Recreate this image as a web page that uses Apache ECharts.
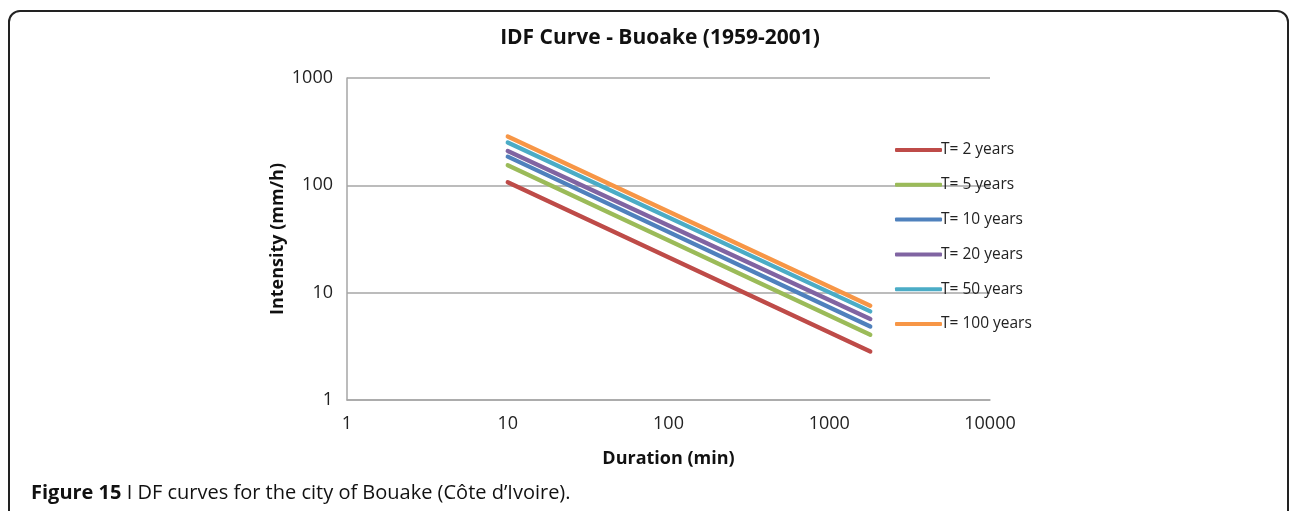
<!DOCTYPE html>
<html>
<head>
<meta charset="utf-8">
<script src="https://cdn.jsdelivr.net/npm/echarts@6/dist/echarts.min.js"></script>
<style>
  html, body { margin: 0; padding: 0; background: #fff; }
  #chart { width: 1292px; height: 511px; }
</style>
</head>
<body>
<div id="chart"></div>
<script>
// Rainfall durations (min) at both ends of each fitted curve
const durations = [10, 1800];

// Intensity (mm/h) for each return period, at the durations above
const seriesNames = ['T= 2 years', 'T= 5 years', 'T= 10 years', 'T= 20 years', 'T= 50 years', 'T= 100 years'];
const t2 = [107, 2.83];
const t5 = [154, 4.05];
const t10 = [185, 4.84];
const t20 = [209, 5.68];
const t50 = [251, 6.69];
const t100 = [285, 7.56];
const seriesValues = [t2, t5, t10, t20, t50, t100];

const colors = ['#BE4B48', '#9BBB59', '#4F81BD', '#8064A2', '#4BACC6', '#F79646'];

const FONT = '"Open Sans", "Noto Sans", sans-serif';

const chart = echarts.init(document.getElementById('chart'), null, { renderer: 'canvas' });

const series = seriesNames.map((name, i) => ({
  name: name,
  type: 'line',
  data: durations.map((d, k) => [d, seriesValues[i][k]]),
  showSymbol: false,
  symbol: 'none',
  lineStyle: { width: 4.3, color: colors[i], cap: 'round' },
  itemStyle: { color: colors[i] },
  emphasis: { disabled: true },
  animation: false
}));

// plain numbers on the log axes (no thousands separator)
const plain = v => String(v);

chart.setOption({
  animation: false,
  backgroundColor: '#ffffff',
  title: {
    text: 'IDF Curve - Buoake (1959-2001)',
    left: 655,
    textAlign: 'center',
    top: 23,
    textStyle: { fontFamily: FONT, fontWeight: 'bold', fontSize: 21, color: '#111' }
  },
  grid: { left: 347, right: 302, top: 78, height: 322, containLabel: false },
  xAxis: {
    type: 'log',
    logBase: 10,
    min: 1,
    max: 10000,
    name: 'Duration (min)',
    nameLocation: 'middle',
    nameGap: 50,
    nameTextStyle: { fontFamily: FONT, fontWeight: 'bold', fontSize: 18, color: '#111' },
    axisLine: { show: true, lineStyle: { color: '#a6a6a6', width: 1.5 } },
    axisTick: { show: false },
    axisLabel: { fontFamily: FONT, fontSize: 18, color: '#222', margin: 15, formatter: plain },
    splitLine: { show: false },
    minorTick: { show: false }
  },
  yAxis: {
    type: 'log',
    logBase: 10,
    min: 1,
    max: 1000,
    name: 'Intensity (mm/h)',
    nameLocation: 'middle',
    nameGap: 60,
    nameTextStyle: { fontFamily: FONT, fontWeight: 'bold', fontSize: 18, color: '#111' },
    axisLine: { show: true, lineStyle: { color: '#a6a6a6', width: 1.5 } },
    axisTick: { show: false },
    axisLabel: { fontFamily: FONT, fontSize: 18, color: '#222', margin: 14, formatter: plain },
    splitLine: { show: true, lineStyle: { color: '#a6a6a6', width: 1.5 } }
  },
  legend: {
    orient: 'vertical',
    left: 890,
    top: 136,
    itemWidth: 47,
    itemHeight: 4,
    itemGap: 16.8,
    icon: 'roundRect',
    data: seriesNames,
    textStyle: { fontFamily: FONT, fontSize: 15.5, color: '#222', lineHeight: 18, padding: [0, 0, 0, -6] }
  },
  graphic: [
    {
      type: 'rect',
      shape: { x: 9, y: 11, width: 1279, height: 520, r: [11, 11, 0, 0] },
      style: { fill: 'none', stroke: '#222', lineWidth: 2 },
      silent: true,
      z: 0
    },
    {
      type: 'text',
      left: 31,
      top: 483,
      style: {
        text: '{b|Figure 15} I DF curves for the city of Bouake (Côte d\u2019Ivoire).',
        font: '20px ' + FONT,
        fill: '#111',
        rich: {
          b: { fontFamily: FONT, fontWeight: 'bold', fontSize: 20, fill: '#111' }
        }
      },
      silent: true
    }
  ],
  series: series
});
</script>
</body>
</html>
